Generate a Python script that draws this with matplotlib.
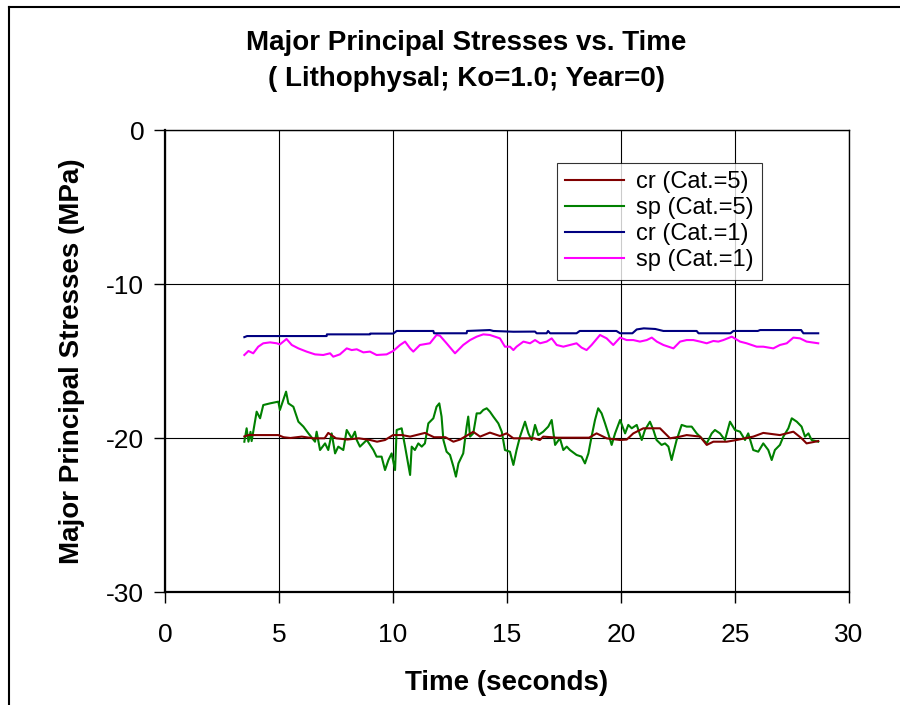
import matplotlib
matplotlib.use("Agg")
import matplotlib.pyplot as plt
from matplotlib.lines import Line2D

plt.rcParams['font.family'] = ['Liberation Sans', 'DejaVu Sans']
plt.rcParams['axes.unicode_minus'] = False

# ---------------- data ----------------
sp5_t = [3.48, 3.58, 3.66, 3.75, 3.80, 3.87, 4.02, 4.17, 4.31, 4.61, 4.97, 5.04, 5.31, 5.41,
         5.63, 5.85, 6.07, 6.29, 6.58, 6.65, 6.80, 7.02, 7.16, 7.31, 7.46, 7.60, 7.82, 7.97,
         8.19, 8.33, 8.41, 8.55, 8.85, 9.14, 9.28, 9.50, 9.65, 9.80, 9.94, 10.09, 10.16, 10.38,
         10.53, 10.75, 10.82, 10.96, 11.11, 11.26, 11.40, 11.55, 11.77, 11.91, 12.03, 12.13,
         12.21, 12.35, 12.50, 12.65, 12.76, 12.87, 13.08, 13.23, 13.30, 13.38, 13.52, 13.67,
         13.82, 13.96, 14.11, 14.25, 14.40, 14.62, 14.77, 14.91, 15.13, 15.28, 15.42, 15.57,
         15.79, 15.94, 16.08, 16.23, 16.37, 16.59, 16.81, 16.96, 17.11, 17.32, 17.47, 17.62,
         17.76, 18.05, 18.27, 18.42, 18.57, 18.71, 18.86, 19.00, 19.15, 19.30, 19.44, 19.59,
         19.74, 19.96, 20.18, 20.32, 20.47, 20.69, 20.91, 21.05, 21.27, 21.42, 21.56, 21.78,
         21.93, 22.08, 22.22, 22.29, 22.44, 22.66, 22.88, 23.10, 23.32, 23.54, 23.76, 23.98,
         24.12, 24.34, 24.56, 24.78, 25.00, 25.22, 25.44, 25.58, 25.80, 26.02, 26.24, 26.46,
         26.61, 26.75, 26.97, 27.12, 27.34, 27.49, 27.71, 27.92, 28.07, 28.22, 28.36, 28.65]
sp5_v = [-20.24, -19.37, -20.24, -19.60, -20.20, -19.59, -18.29, -18.72, -17.86, -17.75, -17.64,
         -18.18, -16.99, -17.75, -17.97, -18.94, -19.26, -19.70, -20.24, -19.59, -20.78, -20.35,
         -20.78, -19.70, -21.00, -20.56, -20.78, -19.48, -20.02, -19.59, -20.13, -20.56, -20.13,
         -20.78, -21.21, -21.21, -22.08, -21.43, -21.00, -22.08, -19.48, -19.37, -20.56, -22.40,
         -20.56, -20.78, -20.35, -20.56, -20.35, -19.05, -18.72, -17.97, -17.75, -18.61, -20.13,
         -20.89, -21.10, -21.86, -22.51, -21.65, -21.00, -19.26, -18.61, -19.91, -19.70, -18.40,
         -18.40, -18.18, -18.07, -18.29, -18.61, -19.05, -19.59, -20.78, -20.89, -21.75, -20.78,
         -19.91, -18.94, -19.70, -20.13, -19.15, -19.81, -19.59, -19.26, -18.83, -20.45, -20.02,
         -20.78, -20.56, -20.78, -21.10, -21.21, -21.65, -21.00, -19.91, -18.83, -18.07, -18.40,
         -19.05, -19.70, -20.45, -19.70, -18.83, -19.70, -19.15, -19.37, -19.15, -20.13, -19.48,
         -18.94, -19.48, -20.13, -20.45, -20.35, -20.56, -21.43, -21.00, -20.13, -19.15, -19.26,
         -19.26, -19.70, -20.02, -20.35, -19.70, -19.48, -19.70, -20.13, -18.94, -19.48, -19.59,
         -20.13, -19.70, -20.78, -20.89, -20.35, -20.78, -21.43, -20.78, -20.45, -19.91, -19.37,
         -18.72, -18.94, -19.26, -19.91, -19.70, -20.13, -20.24]

cr5_t = [3.48, 3.66, 4.97, 5.20, 5.50, 6.00, 6.50, 7.00, 7.16, 7.50, 8.00, 8.50, 9.00, 9.30,
         9.65, 10.00, 10.40, 10.75, 11.40, 11.80, 12.30, 12.65, 12.94, 13.52, 13.82, 14.25,
         14.69, 14.98, 15.28, 15.80, 16.20, 16.44, 16.59, 17.20, 18.00, 18.60, 18.93, 19.37,
         19.96, 20.25, 20.54, 20.98, 21.71, 22.15, 22.59, 22.88, 23.47, 23.76, 24.05, 24.64,
         25.07, 25.80, 26.24, 26.97, 27.56, 27.92, 28.14, 28.65]
cr5_v = [-19.90, -19.81, -19.81, -19.95, -20.00, -19.91, -20.02, -20.02, -19.67, -20.02, -20.10,
         -20.02, -20.13, -20.24, -20.13, -19.81, -19.81, -19.91, -19.67, -19.95, -19.95, -20.24,
         -20.10, -19.60, -19.91, -19.65, -19.87, -19.70, -20.02, -20.02, -20.02, -20.13, -19.91,
         -19.98, -19.98, -19.98, -19.70, -20.02, -20.13, -20.10, -19.70, -19.37, -19.37, -20.02,
         -19.91, -19.81, -19.91, -20.45, -20.24, -20.24, -20.13, -19.91, -19.67, -19.81, -19.59,
         -20.02, -20.35, -20.20]

cr1_t = [3.48, 3.60, 7.09, 7.10, 8.99, 9.00, 10.01, 10.16, 11.77, 11.80, 13.23, 13.25, 14.25,
         14.40, 15.28, 16.23, 16.30, 16.74, 16.80, 16.89, 18.05, 18.19, 19.80, 19.96, 20.50,
         20.69, 21.00, 21.50, 21.86, 23.32, 23.40, 24.80, 24.93, 26.00, 26.10, 27.90, 28.00, 28.65]
cr1_v = [-13.45, -13.38, -13.38, -13.27, -13.27, -13.22, -13.22, -13.05, -13.05, -13.20, -13.20,
         -13.05, -12.99, -13.05, -13.10, -13.09, -13.20, -13.20, -13.05, -13.20, -13.20, -13.05,
         -13.05, -13.20, -13.20, -12.95, -12.88, -12.92, -13.05, -13.05, -13.20, -13.20, -13.05,
         -13.05, -12.99, -12.99, -13.20, -13.20]

sp1_t = [3.48, 3.66, 3.87, 4.09, 4.31, 4.61, 4.90, 5.04, 5.33, 5.56, 5.85, 6.21, 6.58, 6.94,
         7.24, 7.38, 7.67, 7.97, 8.19, 8.41, 8.70, 8.99, 9.28, 9.72, 10.01, 10.31, 10.53, 10.75,
         10.89, 11.18, 11.62, 11.91, 12.06, 12.35, 12.72, 13.08, 13.38, 13.67, 13.96, 14.25,
         14.69, 14.91, 15.13, 15.28, 15.42, 15.72, 16.01, 16.23, 16.45, 16.74, 16.96, 17.18,
         17.47, 17.76, 18.05, 18.27, 18.49, 18.71, 19.08, 19.37, 19.66, 19.96, 20.25, 20.54,
         20.83, 21.13, 21.35, 21.57, 21.86, 22.30, 22.59, 22.88, 23.17, 23.47, 23.76, 24.05,
         24.27, 24.49, 24.86, 25.22, 25.51, 25.95, 26.24, 26.68, 26.97, 27.27, 27.56, 27.85,
         28.14, 28.65]
sp1_v = [-14.61, -14.35, -14.50, -14.07, -13.85, -13.79, -13.85, -13.92, -13.57, -13.96, -14.18,
         -14.39, -14.57, -14.61, -14.50, -14.72, -14.57, -14.18, -14.29, -14.24, -14.44, -14.39,
         -14.61, -14.57, -14.35, -13.96, -13.74, -14.18, -14.39, -13.96, -13.85, -13.31, -13.36,
         -13.85, -14.50, -13.96, -13.64, -13.42, -13.27, -13.31, -13.53, -14.07, -14.07, -14.29,
         -14.07, -13.74, -13.85, -13.64, -13.85, -13.74, -13.53, -13.96, -14.07, -13.96, -13.85,
         -14.13, -14.29, -13.96, -13.31, -13.53, -13.96, -13.48, -13.64, -13.64, -13.74, -13.64,
         -13.48, -13.74, -13.96, -14.18, -13.74, -13.64, -13.64, -13.74, -13.85, -13.70, -13.74,
         -13.64, -13.42, -13.74, -13.85, -14.07, -14.07, -14.18, -13.96, -13.85, -13.48, -13.53,
         -13.74, -13.85]

series_labels = ['cr (Cat.=5)', 'sp (Cat.=5)', 'cr (Cat.=1)', 'sp (Cat.=1)']
series_colors = ['#800000', '#008000', '#000080', '#FF00FF']
x_ticks = [0, 5, 10, 15, 20, 25, 30]
y_ticks = [-30, -20, -10, 0]

# ---------------- figure ----------------
fig = plt.figure(figsize=(9, 7.05), dpi=100)
ax = fig.add_axes([165/900, 1 - 592/705, (849 - 165)/900, (592 - 130)/705])

data = [(cr5_t, cr5_v), (sp5_t, sp5_v), (cr1_t, cr1_v), (sp1_t, sp1_v)]
order = [1, 0, 3, 2]
handles = {}
for i in order:
    t, v = data[i]
    h, = ax.plot(t, v, color=series_colors[i], lw=1.5, label=series_labels[i])
    handles[i] = h

ax.set_xlim(0, 30)
ax.set_ylim(-30, 0)
ax.set_xticks(x_ticks)
ax.set_yticks(y_ticks)
ax.grid(True, color='black', lw=0.8)
ax.set_axisbelow(True)
for s in ax.spines.values():
    s.set_linewidth(1.0)
ax.spines['left'].set_linewidth(1.6)
ax.spines['bottom'].set_linewidth(1.6)
ax.tick_params(axis='both', direction='out', length=8, width=1.0, labelsize=19)
ax.tick_params(axis='x', pad=14)
ax.tick_params(axis='y', pad=7)

leg = ax.legend([handles[i] for i in range(4)], series_labels,
                loc='upper left', bbox_to_anchor=((557 - 165)/684, 1 - (163 - 130)/462),
                fontsize=17, frameon=True, fancybox=False, edgecolor='black',
                handlelength=2.5, handletextpad=0.5, labelspacing=0.17,
                borderpad=0.35, borderaxespad=0.0)
leg.get_frame().set_linewidth(0.8)

fig.text(466/900, 1 - 43/705, 'Major Principal Stresses vs. Time',
         ha='center', va='center', fontsize=20, fontweight='bold')
fig.text(466/900, 1 - 79/705, '( Lithophysal; Ko=1.0; Year=0)',
         ha='center', va='center', fontsize=20, fontweight='bold')
fig.text(507/900, 1 - 683/705, 'Time (seconds)', ha='center', va='center',
         fontsize=20, fontweight='bold')
fig.text(72/900, 1 - 361/705, 'Major Principal Stresses (MPa)', ha='center', va='center',
         rotation=90, fontsize=20, fontweight='bold')

# outer chart border (top and left visible)
fig.add_artist(Line2D([9/900, 1.0], [1 - 7/705, 1 - 7/705], color='black', lw=1.5,
                      transform=fig.transFigure))
fig.add_artist(Line2D([9/900, 9/900], [0.0, 1 - 7/705], color='black', lw=1.5,
                      transform=fig.transFigure))

fig.savefig('out.png', dpi=100)
